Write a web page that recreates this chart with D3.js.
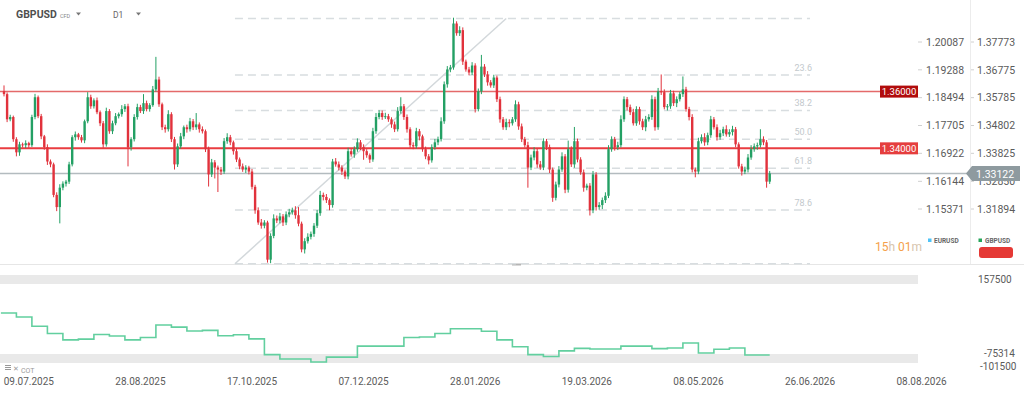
<!DOCTYPE html>
<html>
<head>
<meta charset="utf-8">
<script src="https://cdn.jsdelivr.net/npm/d3@7"></script>
<style>
  body { margin: 0; background: #fff; font-family: Roboto, sans-serif; }
</style>
</head>
<body>
<script>
const WIDTH = 1024
const HEIGHT = 396

// daily closes GBPUSD (open = previous close)
const FIRST_OPEN = 1.3601
const CLOSES = [
  1.3591,1.3502,1.3510,1.3432,1.3386,1.3414,1.3411,1.3418,1.3411,1.3510,
  1.3580,1.3513,1.3442,1.3404,1.3354,1.3344,1.3238,1.3196,1.3263,1.3277,
  1.3284,1.3344,1.3439,1.3449,1.3439,1.3428,1.3495,1.3580,1.3548,1.3569,
  1.3527,1.3488,1.3414,1.3531,1.3460,1.3488,1.3513,1.3520,1.3538,1.3548,
  1.3404,1.3432,1.3510,1.3545,1.3531,1.3559,1.3538,1.3552,1.3608,1.3643,
  1.3555,1.3474,1.3467,1.3520,1.3432,1.3344,1.3407,1.3442,1.3474,1.3467,
  1.3495,1.3474,1.3484,1.3467,1.3460,1.3397,1.3309,1.3351,1.3333,1.3326,
  1.3319,1.3425,1.3439,1.3421,1.3390,1.3361,1.3337,1.3326,1.3333,1.3319,
  1.3266,1.3185,1.3143,1.3132,1.3143,1.3016,1.3097,1.3157,1.3150,1.3164,
  1.3143,1.3171,1.3178,1.3185,1.3168,1.3139,1.3051,1.3079,1.3094,1.3104,
  1.3132,1.3175,1.3238,1.3231,1.3220,1.3203,1.3354,1.3344,1.3333,1.3319,
  1.3302,1.3390,1.3379,1.3397,1.3421,1.3404,1.3390,1.3376,1.3361,1.3460,
  1.3510,1.3524,1.3510,1.3513,1.3502,1.3484,1.3467,1.3531,1.3548,1.3510,
  1.3467,1.3411,1.3407,1.3460,1.3442,1.3397,1.3372,1.3358,1.3404,1.3421,
  1.3432,1.3495,1.3626,1.3679,1.3686,1.3844,1.3809,1.3820,1.3707,1.3679,
  1.3668,1.3693,1.3538,1.3601,1.3689,1.3661,1.3633,1.3622,1.3650,1.3573,
  1.3502,1.3474,1.3492,1.3488,1.3502,1.3555,1.3477,1.3432,1.3411,1.3333,
  1.3368,1.3390,1.3344,1.3333,1.3425,1.3404,1.3326,1.3228,1.3274,1.3326,
  1.3372,1.3256,1.3397,1.3344,1.3425,1.3361,1.3316,1.3263,1.3270,1.3185,
  1.3309,1.3196,1.3203,1.3220,1.3235,1.3397,1.3432,1.3404,1.3411,1.3502,
  1.3573,1.3545,1.3527,1.3488,1.3538,1.3495,1.3474,1.3502,1.3510,1.3573,
  1.3474,1.3601,1.3598,1.3545,1.3548,1.3594,1.3559,1.3573,1.3591,1.3608,
  1.3538,1.3510,1.3326,1.3319,1.3425,1.3439,1.3421,1.3446,1.3502,1.3474,
  1.3439,1.3453,1.3467,1.3449,1.3457,1.3467,1.3414,1.3337,1.3319,1.3326,
  1.3368,1.3397,1.3407,1.3411,1.3432,1.3421,1.3284,1.33122
]
// upper / lower wick length in pips
const WICK_HI = [
  21,6,8,5,7,9,6,10,5,8, 12,6,8,5,10,7,6,9,12,8, 6,9,7,10,5,8,6,18,9,7,
  10,6,8,12,7,9,11,6,14,8, 9,7,10,12,8,32,9,7,12,81, 10,6,9,14,7,8,10,12,6,9,
  12,8,40,7,10,6,9,12,8,7, 9,11,14,8,6,9,7,10,8,6, 9,7,10,12,8,6,9,14,10,12,
  8,10,12,9,14,28,7,10,12,8, 9,11,14,8,10,6,9,12,10,8, 7,12,9,10,14,8,10,7,6,12,
  14,10,9,12,8,7,10,14,32,8, 9,7,10,12,8,6,9,8,10,12, 9,14,10,12,9,21,8,14,10,7,
  9,12,8,10,42,9,12,8,10,7, 9,8,12,10,8,14,9,10,8,12, 10,14,9,12,10,8,9,7,10,12,
  14,8,30,10,50,9,8,10,7,9, 12,8,10,9,12,14,10,8,12,14, 10,8,9,12,10,8,9,12,10,14,
  9,12,60,10,8,12,9,10,8,46, 9,8,10,7,12,10,14,9,12,8, 10,12,9,14,10,12,8,7,9,10,
  12,14,10,9,35,10,8,9
]
const WICK_LO = [
  8,10,7,9,14,12,8,10,9,6, 8,7,10,9,12,10,8,14,56,9, 10,8,7,12,9,8,10,7,9,8,
  7,10,12,8,9,10,7,8,9,10, 67,12,8,9,7,10,8,9,6,8, 9,10,12,8,10,18,9,8,10,12,
  8,10,9,12,8,10,42,9,38,78, 12,8,9,10,12,9,10,8,12,10, 9,12,8,10,9,10,12,8,9,10,
  12,9,10,8,12,9,10,14,8,9, 10,8,9,12,10,18,9,8,10,12, 9,10,8,12,9,10,30,9,12,8,
  9,8,10,7,9,12,10,8,9,10, 12,9,10,8,14,9,10,14,8,9, 10,8,9,12,10,8,9,10,12,8,
  10,9,12,8,10,9,12,8,9,10, 12,9,10,14,8,9,12,10,8,70, 9,10,12,8,9,10,12,14,9,10,
  8,12,10,9,12,10,8,14,9,18, 10,12,9,14,10,8,9,12,10,8, 9,12,10,8,9,12,10,14,8,10,
  12,9,10,8,12,9,10,14,8,10, 9,12,10,20,9,8,12,10,9,8, 12,9,10,8,9,12,10,8,14,9,
  10,8,9,12,8,10,21,8
]

// right axes
const GBP_TICKS = [1.37773, 1.36775, 1.35785, 1.34802, 1.33825, 1.32850, 1.31894]
const EUR_TICKS = [1.20087, 1.19288, 1.18494, 1.17705, 1.16922, 1.16144, 1.15371]
const LAST_PRICE = 1.33122

// horizontal levels
const LEVELS = [
  { price: 1.36, line: '#e46a6a', box: '#b10c0c', w: 1.5 },
  { price: 1.34, line: '#e93c40', box: '#e53e3e', w: 2 }
]

// fibonacci retracement
const FIB_HIGH = 1.3862
const FIB_LOW = 1.3002
const FIB_LEVELS = [0, 23.6, 38.2, 50, 61.8, 78.6, 100]
const FIB_START = 74.5
const FIB_END = 162
const FIB_RIGHT = 260

// x axis (trading day index)
const TICK_IDX = [8, 44, 80, 116, 152, 188, 224, 260, 296]
const TICK_LABELS = ['09.07.2025', '28.08.2025', '17.10.2025', '07.12.2025', '28.01.2026',
  '19.03.2026', '08.05.2026', '26.06.2026', '08.08.2026']

// COT net positions, weekly
const COT_VALUES = [53400, 40800, 12600, -9400, -29000, -26900, -12500, -17400, -29000, -22000,
  16600, 9900, -1800, 100, -16500, -13400, -26000, -74400, -87800, -87800,
  -96700, -82000, -82000, -48300, -48300, -48300, -22000, -20200, -9400, 5000,
  5000, -2700, -29000, -50200, -74400, -80200, -62700, -55100, -56900, -56900,
  -48300, -48300, -56000, -54200, -38500, -69500, -57800, -54200, -75314]
const COT_TICKS = [157500, -101500]
const COT_LAST = -75314

const svg = d3.select('body')
  .append('svg')
  .attr('width', WIDTH)
  .attr('height', HEIGHT)
  .style('font-family', 'Roboto, sans-serif')

const x = d3.scaleLinear().domain([0, 296]).range([4, 921.6])
const y = d3.scaleLog().domain([1.31894, 1.37773]).range([209, 42])
const yEur = d3.scaleLog().domain([1.15371, 1.20087]).range([209, 42])
const yCot = d3.scaleLinear().domain([-101500, 157500]).range([363.5, 279])

const candles = CLOSES.map((c, i) => {
  const o = i === 0 ? FIRST_OPEN : CLOSES[i - 1]
  return {
    i, o, c,
    h: Math.max(o, c) + WICK_HI[i] / 10000,
    l: Math.min(o, c) - WICK_LO[i] / 10000
  }
})

// panel borders
svg.append('line').attr('x1', 0).attr('x2', WIDTH).attr('y1', 264.5).attr('y2', 264.5)
  .attr('stroke', '#e6e6e6')
svg.append('line').attr('x1', 970.5).attr('x2', 970.5).attr('y1', 0).attr('y2', 264)
  .attr('stroke', '#ececec')
svg.append('line').attr('x1', 512).attr('x2', 521).attr('y1', 264.5).attr('y2', 264.5)
  .attr('stroke', '#b5b5b5').attr('stroke-width', 2)

// fibonacci
const fib = svg.append('g')
fib.selectAll('line')
  .data(FIB_LEVELS)
  .enter()
  .append('line')
  .attr('x1', x(FIB_START))
  .attr('x2', x(FIB_RIGHT))
  .attr('y1', d => y(FIB_HIGH - (FIB_HIGH - FIB_LOW) * d / 100))
  .attr('y2', d => y(FIB_HIGH - (FIB_HIGH - FIB_LOW) * d / 100))
  .attr('stroke', '#d8dde0')
  .attr('stroke-width', 1.5)
  .attr('stroke-dasharray', '8,5')
fib.selectAll('text')
  .data(FIB_LEVELS.filter(d => d > 0 && d < 100))
  .enter()
  .append('text')
  .attr('x', x(FIB_RIGHT) + 2)
  .attr('y', d => y(FIB_HIGH - (FIB_HIGH - FIB_LOW) * d / 100) - 4)
  .attr('text-anchor', 'end')
  .attr('font-size', 9)
  .attr('fill', '#c3c9cd')
  .text(d => d.toFixed(1))
fib.append('line')
  .attr('x1', x(FIB_START)).attr('y1', y(FIB_LOW))
  .attr('x2', x(FIB_END)).attr('y2', y(FIB_HIGH))
  .attr('stroke', '#d3d8db')
  .attr('stroke-width', 1.5)

// current price line
svg.append('line')
  .attr('x1', 0).attr('x2', 968)
  .attr('y1', y(LAST_PRICE)).attr('y2', y(LAST_PRICE))
  .attr('stroke', '#b3bbbf').attr('stroke-width', 1.5)

// horizontal levels
const lv = svg.append('g').selectAll('g').data(LEVELS).enter().append('g')
lv.append('line')
  .attr('x1', 0).attr('x2', 880)
  .attr('y1', d => y(d.price)).attr('y2', d => y(d.price))
  .attr('stroke', d => d.line).attr('stroke-width', d => d.w)
lv.append('rect')
  .attr('x', 880).attr('width', 38).attr('height', 12)
  .attr('y', d => y(d.price) - 6)
  .attr('fill', d => d.box)
lv.append('text')
  .attr('x', 899).attr('y', d => y(d.price) + 3.5)
  .attr('text-anchor', 'middle')
  .attr('font-size', 9.5).attr('fill', '#fff')
  .text(d => d.price.toFixed(5))

// candles
const cg = svg.append('g')
cg.selectAll('line')
  .data(candles)
  .enter()
  .append('line')
  .attr('x1', d => x(d.i)).attr('x2', d => x(d.i))
  .attr('y1', d => y(d.h)).attr('y2', d => y(d.l))
  .attr('stroke', d => d.c >= d.o ? '#23a064' : '#e1323c')
  .attr('stroke-width', 1)
cg.selectAll('rect')
  .data(candles)
  .enter()
  .append('rect')
  .attr('x', d => x(d.i) - 1.2)
  .attr('width', 2.4)
  .attr('y', d => y(Math.max(d.o, d.c)))
  .attr('height', d => Math.max(1, Math.abs(y(d.o) - y(d.c))))
  .attr('fill', d => d.c >= d.o ? '#23a064' : '#e1323c')

// right axes
const axisText = (g) => g.attr('font-size', 10.5).attr('fill', '#5b5b5b')
svg.append('g').call(axisText)
  .selectAll('text').data(EUR_TICKS).enter().append('text')
  .attr('x', 926).attr('y', d => yEur(d) + 3.8)
  .text(d => d.toFixed(5))
svg.append('g').call(axisText)
  .selectAll('text').data(GBP_TICKS).enter().append('text')
  .attr('x', 977).attr('y', d => y(d) + 3.8)
  .text(d => d.toFixed(5))
svg.append('g').selectAll('line').data(GBP_TICKS).enter().append('line')
  .attr('x1', 918).attr('x2', 922).attr('y1', d => y(d)).attr('y2', d => y(d))
  .attr('stroke', '#d0d0d0')
svg.append('g').selectAll('line').data(GBP_TICKS).enter().append('line')
  .attr('x1', 971).attr('x2', 974).attr('y1', d => y(d)).attr('y2', d => y(d))
  .attr('stroke', '#d0d0d0')

// last price marker
const ly = y(LAST_PRICE)
svg.append('path')
  .attr('d', `M966,${ly} L972,${ly - 7.5} L1020,${ly - 7.5} L1020,${ly + 7.5} L972,${ly + 7.5} Z`)
  .attr('fill', '#8e9a9f')
svg.append('text')
  .attr('x', 976).attr('y', ly + 4)
  .attr('font-size', 10.5).attr('fill', '#fff')
  .text(LAST_PRICE.toFixed(5))

// header
const head = svg.append('g').attr('fill', '#4f4f4f')
head.append('text').attr('x', 16).attr('y', 18).attr('font-size', 10.5)
  .attr('font-weight', 'bold').text('GBPUSD')
head.append('text').attr('x', 60).attr('y', 17.5).attr('font-size', 5.5)
  .attr('fill', '#888').text('CFD')
head.append('text').attr('x', 113).attr('y', 17.5).attr('font-size', 8.5)
  .attr('fill', '#666').text('D1')
head.selectAll('path').data([76, 136]).enter().append('path')
  .attr('d', d => `M${d},12.5 L${d + 5},12.5 L${d + 2.5},15.5 Z`)
  .attr('fill', '#777')

// legend + timer
svg.append('rect').attr('x', 928).attr('y', 238.5).attr('width', 3.5).attr('height', 3.5).attr('fill', '#4fc3f7')
svg.append('text').attr('x', 934).attr('y', 243).attr('font-size', 6.5).attr('font-weight', 'bold')
  .attr('fill', '#666').text('EURUSD')
svg.append('rect').attr('x', 978.5).attr('y', 238.5).attr('width', 3.5).attr('height', 3.5).attr('fill', '#26a65b')
svg.append('text').attr('x', 985).attr('y', 243).attr('font-size', 6.5).attr('font-weight', 'bold')
  .attr('fill', '#666').text('GBPUSD')
svg.append('rect').attr('x', 979).attr('y', 247).attr('width', 34).attr('height', 11).attr('rx', 3)
  .attr('fill', '#e53935')
const timer = svg.append('text').attr('x', 875).attr('y', 251).attr('font-size', 12)
;[['15', '#f5a04a'], ['h ', '#d7c5ad'], ['01', '#f5a04a'], ['m', '#d7c5ad']].forEach(([t, c]) => {
  timer.append('tspan').attr('fill', c).text(t)
})

// COT panel
svg.append('rect').attr('x', 0).attr('y', 275).attr('width', 918).attr('height', 9).attr('fill', '#e9e9e9')
svg.append('rect').attr('x', 0).attr('y', 354).attr('width', 918).attr('height', 9).attr('fill', '#e9e9e9')
svg.append('clipPath').attr('id', 'cot-clip').append('rect')
  .attr('x', 0).attr('y', 270).attr('width', 918).attr('height', 100)
const cotData = COT_VALUES.map((v, k) => ({ idx: -1 + 5 * k, v }))
cotData.push({ idx: CLOSES.length - 1, v: COT_LAST })
svg.append('path')
  .datum(cotData)
  .attr('clip-path', 'url(#cot-clip)')
  .attr('fill', 'none')
  .attr('stroke', '#62cf9f')
  .attr('stroke-width', 1.6)
  .attr('d', d3.line().x(d => x(d.idx)).y(d => yCot(d.v)).curve(d3.curveStepAfter))
svg.append('g').call(axisText).attr('font-size', 10)
  .selectAll('text').data(COT_TICKS).enter().append('text')
  .attr('x', d => d > 0 ? 978 : 980)
  .attr('y', d => yCot(d) + (d > 0 ? 4 : 6.5))
  .text(d => d)
svg.append('text').attr('x', 984).attr('y', yCot(COT_LAST) + 2.5)
  .attr('font-size', 10).attr('fill', '#5b5b5b').text(COT_LAST)
// COT tag
const tag = svg.append('g').attr('fill', '#999')
;[365, 367, 369].forEach(yy => tag.append('rect').attr('x', 5).attr('y', yy).attr('width', 6).attr('height', 1))
tag.append('text').attr('x', 13).attr('y', 371).attr('font-size', 7).text('✕')
tag.append('text').attr('x', 21).attr('y', 373).attr('font-size', 7).text('COT')

// x axis
svg.append('g').call(axisText).attr('font-size', 10)
  .selectAll('text').data(TICK_IDX).enter().append('text')
  .attr('x', d => x(d)).attr('y', 385)
  .attr('text-anchor', 'middle')
  .text((d, i) => TICK_LABELS[i])
</script>
</body>
</html>
